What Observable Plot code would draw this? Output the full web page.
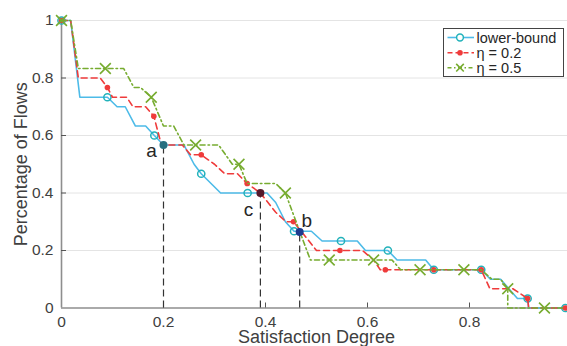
<!DOCTYPE html>
<html><head><meta charset="utf-8">
<script src="https://cdn.jsdelivr.net/npm/d3@7"></script>
<script src="https://cdn.jsdelivr.net/npm/@observablehq/plot@0.6"></script>
<style>
body{margin:0;background:#fff;}
#wrap{position:relative;width:567px;height:346px;overflow:hidden;font-family:"Liberation Sans",Arial,sans-serif;}
#legend{position:absolute;left:443px;top:28px;}
</style></head><body><div id="wrap"></div>
<script>
// ---- data ----
const xTicks = [0, 0.2, 0.4, 0.6, 0.8];
const yTicks = [0, 0.2, 0.4, 0.6, 0.8, 1];

const lowerX = [0,0.018,0.036,0.09,0.109,0.125,0.145,0.165,0.182,0.2,0.24,0.26,0.274,0.312,0.365,0.403,0.42,0.439,0.456,0.49,0.511,0.548,0.58,0.596,0.64,0.658,0.714,0.73,0.823,0.841,0.861,0.894,0.914,0.916,0.988];
const lowerY = [1,1,0.733,0.733,0.7,0.7,0.633,0.633,0.6,0.567,0.567,0.5,0.467,0.4,0.4,0.4,0.367,0.3,0.267,0.267,0.233,0.233,0.233,0.2,0.2,0.167,0.167,0.133,0.133,0.1,0.1,0.033,0.033,0,0];
const lowerMarkX = [0,0.09,0.182,0.274,0.365,0.456,0.548,0.64,0.73,0.823,0.914,0.988];
const lowerMarkY = [1,0.733,0.6,0.467,0.4,0.267,0.233,0.2,0.133,0.133,0.033,0];

const eta02X = [0,0.018,0.033,0.076,0.09,0.1,0.128,0.14,0.165,0.181,0.196,0.237,0.253,0.274,0.3,0.32,0.345,0.364,0.39,0.42,0.44,0.455,0.5,0.59,0.612,0.625,0.635,0.73,0.823,0.84,0.885,0.914,0.916,0.988];
const eta02Y = [1,1,0.8,0.8,0.767,0.733,0.733,0.7,0.7,0.667,0.567,0.567,0.533,0.533,0.5,0.467,0.467,0.433,0.4,0.333,0.3,0.3,0.2,0.2,0.167,0.133,0.133,0.133,0.133,0.067,0.067,0.033,0,0];
const eta02MarkX = [0,0.09,0.181,0.274,0.364,0.455,0.546,0.635,0.73,0.823,0.914,0.988];
const eta02MarkY = [1,0.767,0.667,0.533,0.433,0.3,0.2,0.133,0.133,0.133,0.033,0];

const eta05X = [0,0.018,0.033,0.122,0.142,0.155,0.176,0.2,0.22,0.24,0.308,0.335,0.348,0.364,0.42,0.439,0.488,0.648,0.665,0.823,0.844,0.861,0.875,0.875,0.988];
const eta05Y = [1,1,0.833,0.833,0.767,0.767,0.733,0.633,0.633,0.567,0.567,0.5,0.5,0.433,0.433,0.4,0.167,0.167,0.133,0.133,0.1,0.1,0.067,0,0];
const eta05MarkX = [0,0.086,0.176,0.263,0.348,0.439,0.525,0.612,0.703,0.789,0.875,0.947];
const eta05MarkY = [1,0.833,0.733,0.567,0.5,0.4,0.167,0.167,0.133,0.133,0.067,0];

const annotLabel = ["a","c","b"];
const annotX = [0.2, 0.39, 0.467];
const annotY = [0.567, 0.4, 0.264];

const legendLabels = ["lower-bound", "η = 0.2", "η = 0.5"];
const xLabel = "Satisfaction Degree";
const yLabel = "Percentage of Flows";

// ---- styles ----
const C = {blue:"#4dbbe8", teal:"#22b2ba", red:"#ef3b3b", green:"#77ac30",
  annot:["#276f80","#551a2c","#1d3b8e"], grid:"#e4e4e4", axis:"#8e8e8e", text:"#404040"};
const annotOff = [{dx:-12,dy:6},{dx:-12,dy:17},{dx:7,dy:-11}];
const redDash = "6,4", greenDash = "5,3,1.5,3";

const pts = (X, Y) => X.map((x, i) => ({x, y: Y[i]}));
const lower = pts(lowerX, lowerY), lowerM = pts(lowerMarkX, lowerMarkY);
const e02 = pts(eta02X, eta02Y), e02M = pts(eta02MarkX, eta02MarkY);
const e05 = pts(eta05X, eta05Y), e05M = pts(eta05MarkX, eta05MarkY);
const annot = annotLabel.map((t, i) => ({t, x: annotX[i], y: annotY[i], c: C.annot[i]}));

const W = 567, H = 346, mL = 61, mR = -4, mT = 20, mB = 38.5;
const fw = W - mL - mR, fh = H - mT - mB;

const chart = Plot.plot({
  width: W, height: H,
  marginLeft: mL, marginRight: mR, marginTop: mT, marginBottom: mB,
  style: {fontFamily: '"Liberation Sans", Arial, sans-serif', background: "#fff", overflow: "visible"},
  x: {domain: [0, 1]},
  y: {domain: [0, 1]},
  marks: [
    Plot.ruleY(yTicks.filter(d => d > 0), {stroke: C.grid, strokeWidth: 1}),
    Plot.ruleX([0], {stroke: C.axis, strokeWidth: 1.6}),
    Plot.ruleY([0], {stroke: C.axis, strokeWidth: 1.6}),
    Plot.ruleX(xTicks.filter(d => d > 0), {stroke: "#555", strokeWidth: 1, insetTop: fh - 5}),
    Plot.ruleY(yTicks.filter(d => d > 0), {stroke: "#555", strokeWidth: 1, insetRight: fw - 5}),
    Plot.axisX(xTicks, {tickSize: 0, tickPadding: 8, tickFormat: d => String(d), fontSize: 15.5, fill: C.text, label: null}),
    Plot.axisY(yTicks, {tickSize: 0, tickPadding: 8, tickFormat: d => String(d), fontSize: 15.5, fill: C.text, label: null}),
    Plot.text([yLabel], {frameAnchor: "left", textAnchor: "middle", lineAnchor: "middle", dx: -40, rotate: -90, fontSize: 18, fill: C.text}),
    Plot.text([xLabel], {frameAnchor: "bottom", textAnchor: "middle", lineAnchor: "middle", dy: 29, fontSize: 18, fill: C.text}),
    // dashed drop lines
    Plot.ruleX(annot, {x: "x", y1: 0, y2: "y", stroke: "#333", strokeWidth: 1.2, strokeDasharray: "7,4"}),
    // lower-bound
    Plot.line(lower, {x: "x", y: "y", stroke: C.blue, strokeWidth: 1.6}),
    Plot.dot(lowerM, {x: "x", y: "y", r: 3.6, stroke: C.teal, strokeWidth: 1.5, fill: "none"}),
    // eta 0.2
    Plot.line(e02, {x: "x", y: "y", stroke: C.red, strokeWidth: 1.6, strokeDasharray: redDash}),
    Plot.dot(e02M, {x: "x", y: "y", r: 2.8, fill: C.red}),
    // eta 0.5
    Plot.line(e05, {x: "x", y: "y", stroke: C.green, strokeWidth: 1.6, strokeDasharray: greenDash}),
    Plot.dot(e05M, {x: "x", y: "y", r: 5, symbol: "times", stroke: C.green, strokeWidth: 1.6}),
    // annotation points
    Plot.dot(annot, {x: "x", y: "y", r: 4, fill: "c"}),
    ...annot.map((d, i) => Plot.text([d], {x: "x", y: "y", text: "t", dx: annotOff[i].dx, dy: annotOff[i].dy, fontSize: 19, fill: "#262626"}))
  ]
});
const wrap = document.getElementById("wrap");
wrap.appendChild(chart);

// ---- legend ----
const ns = "http://www.w3.org/2000/svg";
const lg = document.createElementNS(ns, "svg");
lg.setAttribute("id", "legend");
lg.setAttribute("width", 122); lg.setAttribute("height", 50);
const mk = (tag, attrs) => { const e = document.createElementNS(ns, tag); for (const k in attrs) e.setAttribute(k, attrs[k]); lg.appendChild(e); return e; };
mk("rect", {x: 0.5, y: 0.5, width: 120, height: 48, fill: "#fff", stroke: "#444", "stroke-width": 1});
const rowsY = [9.5, 24.7, 39.7];
const styles = [
  {stroke: C.blue, dash: null},
  {stroke: C.red, dash: "5,3"},
  {stroke: C.green, dash: "4,2.5,1.5,2.5"}
];
rowsY.forEach((y, i) => {
  const l = mk("line", {x1: 4.5, x2: 31, y1: y, y2: y, stroke: styles[i].stroke, "stroke-width": 1.6});
  if (styles[i].dash) l.setAttribute("stroke-dasharray", styles[i].dash);
  if (i === 0) mk("circle", {cx: 17, cy: y, r: 3.4, fill: "#fff", stroke: C.teal, "stroke-width": 1.5});
  if (i === 1) mk("circle", {cx: 17, cy: y, r: 2.8, fill: C.red});
  if (i === 2) { mk("path", {d: `M${17-3.8},${y-3.8}L${17+3.8},${y+3.8}M${17-3.8},${y+3.8}L${17+3.8},${y-3.8}`, stroke: C.green, "stroke-width": 1.6}); }
  const t = mk("text", {x: 33.5, y: y, "dominant-baseline": "central", "font-size": 14.5, fill: "#262626", "font-family": '"Liberation Sans", Arial, sans-serif'});
  t.textContent = legendLabels[i];
});
wrap.appendChild(lg);
</script>
</body></html>
